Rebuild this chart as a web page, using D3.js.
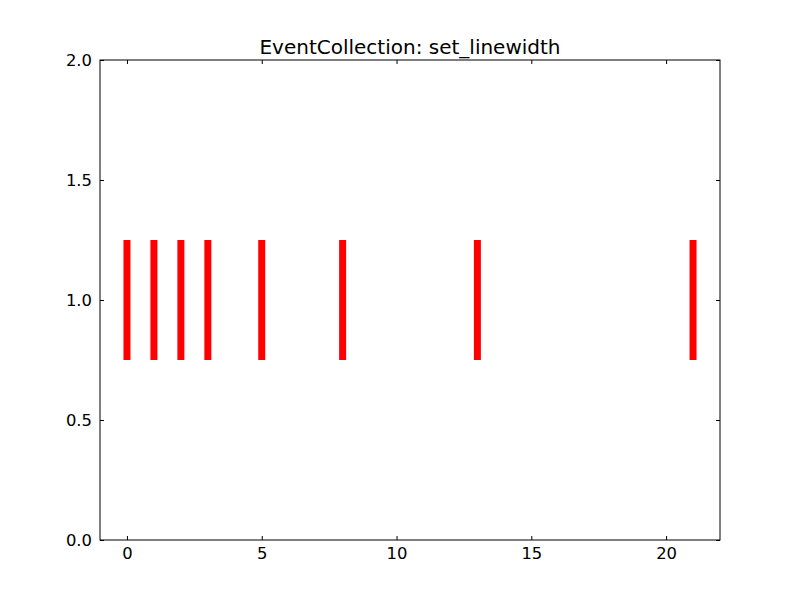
<!DOCTYPE html>
<html><head><meta charset="utf-8">
<script src="https://cdn.jsdelivr.net/npm/d3@7"></script>
<style>body{margin:0;background:#fff}</style>
</head><body>
<script>
const events = [0, 1, 2, 3, 5, 8, 13, 21];
const lineOffset = 1.0;
const lineLength = 0.5;
const xTicks = [0, 5, 10, 15, 20];
const yTicks = [0.0, 0.5, 1.0, 1.5, 2.0];
const titleText = "EventCollection: set_linewidth";

const W = 800, H = 600;
const m = {l: 100, r: 80, t: 60, b: 60};
const svg = d3.select("body").append("svg").attr("width", W).attr("height", H)
  .style("font-family", "DejaVu Sans");
const x = d3.scaleLinear().domain([-1, 22]).range([m.l, W - m.r]);
const y = d3.scaleLinear().domain([0, 2]).range([H - m.b, m.t]);

svg.append("rect").attr("x", 0).attr("y", 0).attr("width", W).attr("height", H).attr("fill", "#fff");

svg.append("g").selectAll("line").data(events).join("line")
  .attr("x1", d => x(d)).attr("x2", d => x(d))
  .attr("y1", y(lineOffset - lineLength / 2)).attr("y2", y(lineOffset + lineLength / 2))
  .attr("stroke", "#ff0000").attr("stroke-width", 7).attr("stroke-linecap", "butt");

function styleAxis(g) {
  g.select(".domain").remove();
  g.selectAll(".tick line").attr("stroke", "#000").attr("stroke-width", 1);
  g.selectAll(".tick text").attr("font-size", 16.4).attr("fill", "#000").attr("font-family", "DejaVu Sans");
}
const fmtY = d3.format(".1f");
svg.append("g").attr("transform", `translate(0,${H - m.b})`)
  .call(d3.axisBottom(x).tickValues(xTicks).tickSizeInner(-4).tickSizeOuter(0).tickPadding(7.5))
  .call(styleAxis);
svg.append("g").attr("transform", `translate(0,${m.t})`)
  .call(d3.axisTop(x).tickValues(xTicks).tickSizeInner(-4).tickSizeOuter(0).tickFormat(""))
  .call(styleAxis);
svg.append("g").attr("transform", `translate(${m.l},0)`)
  .call(d3.axisLeft(y).tickValues(yTicks).tickSizeInner(-4).tickSizeOuter(0).tickPadding(8).tickFormat(fmtY))
  .call(styleAxis);
svg.append("g").attr("transform", `translate(${W - m.r},0)`)
  .call(d3.axisRight(y).tickValues(yTicks).tickSizeInner(-4).tickSizeOuter(0).tickFormat(""))
  .call(styleAxis);

svg.append("rect").attr("x", m.l).attr("y", m.t).attr("width", W - m.l - m.r).attr("height", H - m.t - m.b)
  .attr("fill", "none").attr("stroke", "#000").attr("stroke-width", 1);

svg.append("text").attr("x", (m.l + W - m.r) / 2).attr("y", 54)
  .attr("text-anchor", "middle").attr("font-size", 20).attr("fill", "#000").text(titleText);
</script>
</body></html>
